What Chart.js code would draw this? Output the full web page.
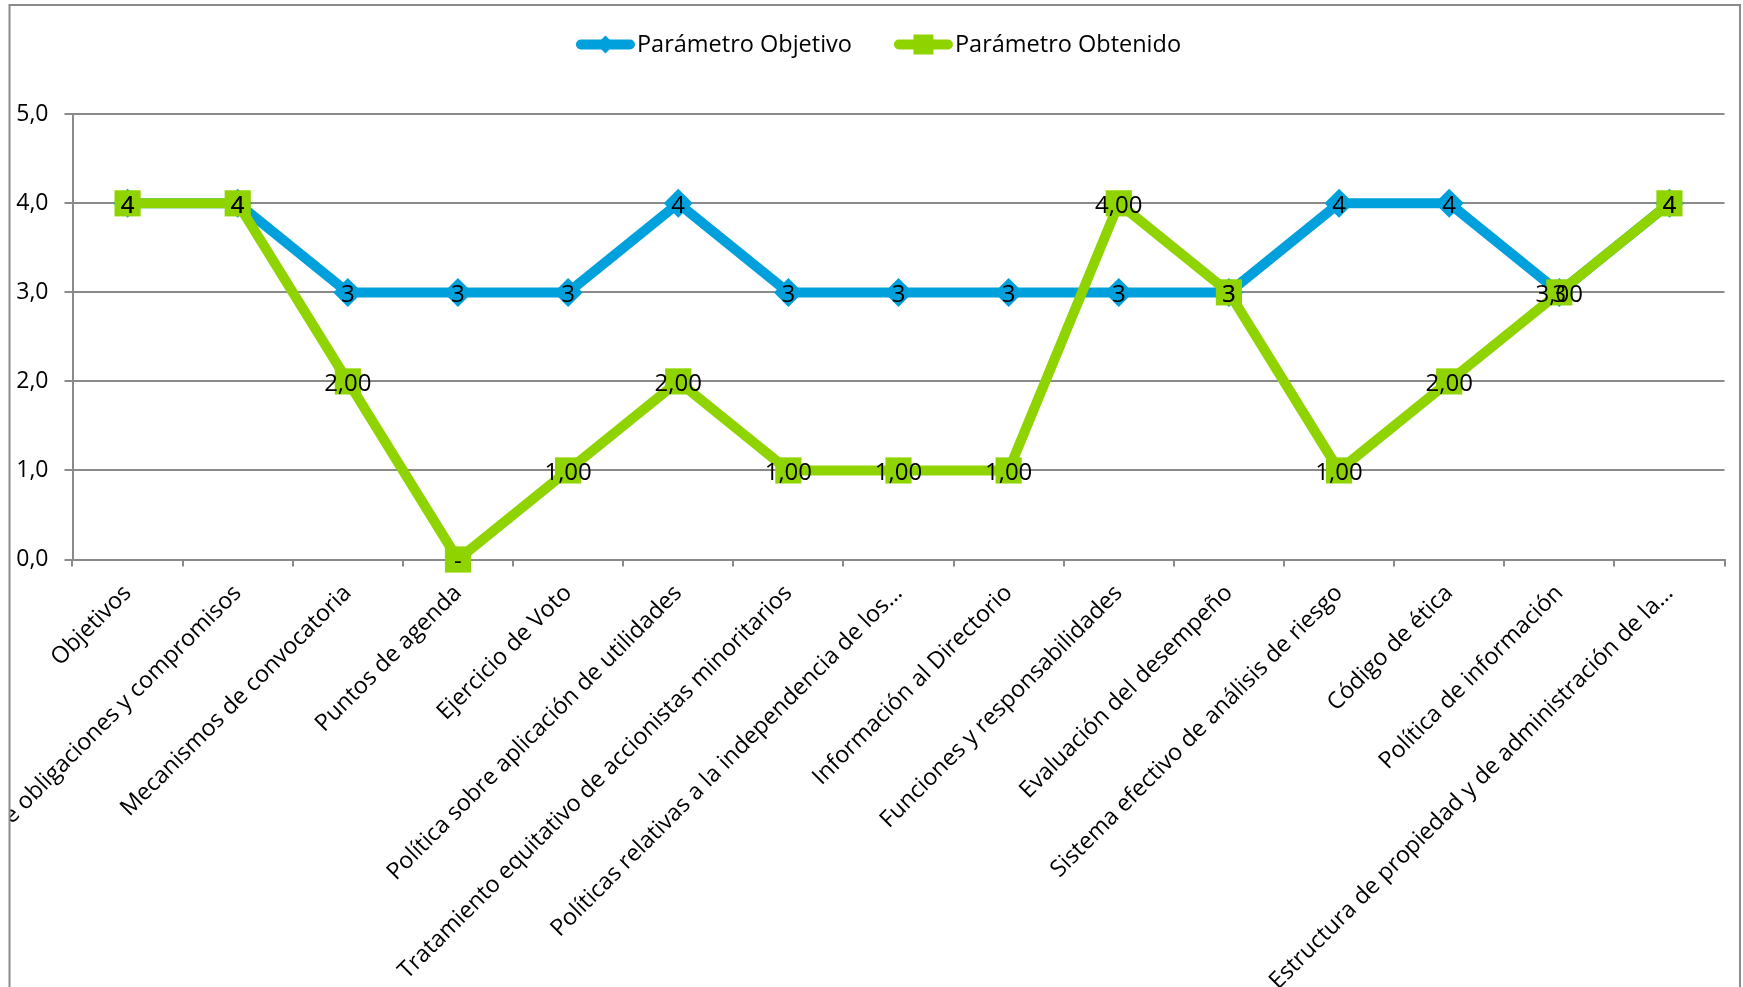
<!DOCTYPE html>
<html><head><meta charset="utf-8">
<script src="https://cdn.jsdelivr.net/npm/chart.js@4.4.1/dist/chart.umd.min.js"></script>
<style>html,body{margin:0;padding:0;background:#fff;overflow:hidden}#wrap{position:relative;width:1743px;height:987px}</style>
</head><body><div id="wrap"><canvas id="c"></canvas></div>
<script>
const categories = [
  'Objetivos',
  'Cumplimiento de obligaciones y compromisos',
  'Mecanismos de convocatoria',
  'Puntos de agenda',
  'Ejercicio de Voto',
  'Política sobre aplicación de utilidades',
  'Tratamiento equitativo de accionistas minoritarios',
  'Políticas relativas a la independencia de los…',
  'Información al Directorio',
  'Funciones y responsabilidades',
  'Evaluación del desempeño',
  'Sistema efectivo de análisis de riesgo',
  'Código de ética',
  'Política de información',
  'Estructura de propiedad y de administración de la…'
];
const seriesNames = ['Parámetro Objetivo', 'Parámetro Obtenido'];
const objetivoValues = [4, 4, 3, 3, 3, 4, 3, 3, 3, 3, 3, 4, 4, 3, 4];
const obtenidoValues = [4, 4, 2, 0, 1, 2, 1, 1, 1, 4, 3, 1, 2, 3, 4];
const objetivoLabels = ['4','4','3','3','3','4','3','3','3','3','3','4','4','3','4'];
const obtenidoLabels = ['4','4','2,00','-','1,00','2,00','1,00','1,00','1,00','4,00','3','1,00','2,00','3,00','4'];
const yTickLabels = ['0,0', '1,0', '2,0', '3,0', '4,0', '5,0'];

const BLUE = '#00A0DC';
const GREEN = '#8FD400';
const GRID = '#8A8A8A';
const FONT = "'Open Sans', sans-serif";
const dataLabelSets = [objetivoLabels, obtenidoLabels];

Chart.defaults.font.family = FONT;
Chart.defaults.color = '#000';

const deco = {
  id: 'deco',
  beforeDraw(chart) {
    const ctx = chart.ctx;
    ctx.save();
    ctx.beginPath();
    ctx.rect(10, 6, 1729, 981);
    ctx.clip();
  },
  afterDatasetsDraw(chart) {
    const ctx = chart.ctx;
    ctx.save();
    ctx.font = '24px ' + FONT;
    ctx.fillStyle = '#000';
    ctx.textAlign = 'center';
    ctx.textBaseline = 'middle';
    [0, 1].forEach(di => {
      const meta = chart.getDatasetMeta(di);
      meta.data.forEach((pt, i) => {
        ctx.fillText(dataLabelSets[di][i], pt.x, pt.y + 3);
      });
    });
    ctx.restore();
  },
  afterDraw(chart) {
    const ctx = chart.ctx;
    ctx.restore();
    ctx.save();
    ctx.strokeStyle = GRID;
    ctx.lineWidth = 2;
    ctx.beginPath();
    ctx.moveTo(9.5, 990); ctx.lineTo(9.5, 5); ctx.lineTo(1740, 5); ctx.lineTo(1740, 990);
    ctx.stroke();
    ctx.font = '23.5px ' + FONT;
    ctx.textBaseline = 'middle';
    ctx.textAlign = 'left';
    const lineLen = 59, gapText = 2, gapItem = 42, cy = 44.5;
    const w0 = ctx.measureText(seriesNames[0]).width;
    const w1 = ctx.measureText(seriesNames[1]).width;
    const total = lineLen + gapText + w0 + gapItem + lineLen + gapText + w1;
    let x = 878.5 - total / 2;
    const colors = [BLUE, GREEN];
    [0, 1].forEach(i => {
      ctx.strokeStyle = colors[i];
      ctx.lineWidth = 10;
      ctx.lineCap = 'round';
      ctx.beginPath();
      ctx.moveTo(x + 5, cy); ctx.lineTo(x + lineLen - 5, cy);
      ctx.stroke();
      const mx = x + lineLen / 2;
      ctx.fillStyle = colors[i];
      ctx.beginPath();
      if (i === 0) {
        ctx.moveTo(mx, cy - 9); ctx.lineTo(mx + 9, cy); ctx.lineTo(mx, cy + 9); ctx.lineTo(mx - 9, cy); ctx.closePath();
      } else {
        ctx.rect(mx - 10, cy - 10, 20, 20);
      }
      ctx.fill();
      ctx.fillStyle = '#000';
      ctx.fillText(seriesNames[i], x + lineLen + gapText, cy + 1);
      x += lineLen + gapText + (i === 0 ? w0 : w1) + gapItem;
    });
    ctx.restore();
  }
};

new Chart(document.getElementById('c'), {
  type: 'line',
  data: {
    labels: categories,
    datasets: [
      {
        label: seriesNames[0], data: objetivoValues,
        borderColor: BLUE, backgroundColor: BLUE, borderWidth: 10,
        pointStyle: 'rectRot', pointRadius: 14.5, pointBackgroundColor: BLUE, pointBorderWidth: 0,
        tension: 0, order: 1, clip: false, borderJoinStyle: 'miter'
      },
      {
        label: seriesNames[1], data: obtenidoValues,
        borderColor: GREEN, backgroundColor: GREEN, borderWidth: 10,
        pointStyle: 'rect', pointRadius: 18.5, pointBackgroundColor: GREEN, pointBorderWidth: 0,
        tension: 0, order: 0, clip: false, borderJoinStyle: 'miter'
      }
    ]
  },
  options: {
    responsive: true, maintainAspectRatio: false, devicePixelRatio: 1, animation: false,
    layout: { padding: { top: 114.3, right: 17.4, bottom: 0, left: 0 } },
    plugins: { legend: { display: false }, tooltip: { enabled: false } },
    scales: {
      x: {
        offset: true,
        afterFit(s) { s.height = 987 - 559.5; },
        grid: { offset: true, drawOnChartArea: false, drawTicks: true, tickLength: 7, color: GRID, lineWidth: 2 },
        border: { color: GRID, width: 2 },
        ticks: { autoSkip: false, minRotation: 45, maxRotation: 45, padding: 13, font: { size: 23.3 }, color: '#000' }
      },
      y: {
        min: 0, max: 5,
        afterFit(s) { s.width = 72.5; },
        grid: { color: GRID, lineWidth: 2, drawTicks: true, tickLength: 8 },
        border: { color: GRID, width: 2 },
        ticks: { stepSize: 1, padding: 16, font: { size: 23 }, color: '#000',
          callback: (v) => yTickLabels[v] }
      }
    }
  },
  plugins: [deco]
});
</script>
</body></html>
